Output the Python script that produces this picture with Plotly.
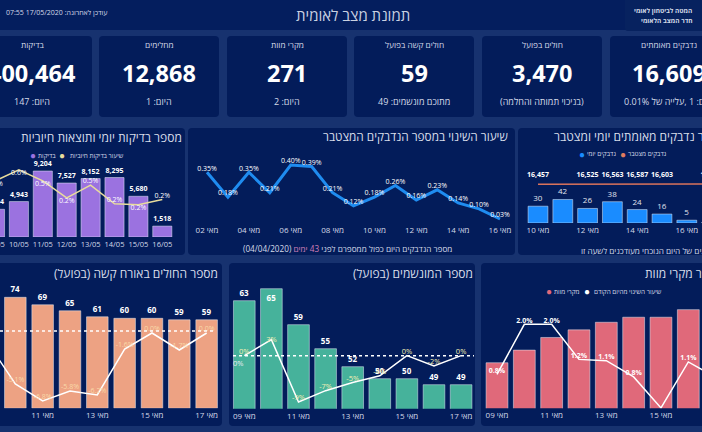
import plotly.graph_objects as go

W, H = 702, 432
FONT = "Open Sans"
BG = "#17326f"
PANEL = "#031c5a"
TXT = "#d4dae8"

# ---- data ----
kpi_titles = ["נדבקים מאומתים", "חולים בפועל", "חולים קשה בפועל", "מקרי מוות", "מחלימים", "בדיקות"]
kpi_values = ["16,609", "3,470", "59", "271", "12,868", "400,464"]
kpi_subs = ["היום: 1 ,עלייה של 0.01%", "(בניכוי תמותה והחלמה)", "מתוכם מונשמים: 49", "היום: 2", "היום: 1", "היום: 147"]

test_days = ["09/05", "10/05", "11/05", "12/05", "13/05", "14/05", "15/05", "16/05"]
test_counts = [3864, 4943, 9204, 7527, 8152, 8295, 5680, 1518]
test_pos_rate = [0.47, 0.60, 0.47, 0.27, 0.42, 0.20, 0.19, 0.25]
test_pos_labels = ["0.5%", "0.6%", "0.5%", "0.2%", "0.5%", "0.2%", "0.2%", "0.2%"]

growth_days = ["מאי %02d" % d for d in (2, 3, 4, 5, 6, 7, 8, 9, 10, 11, 12, 13, 14, 15, 16)]
growth_rate = [0.35, 0.18, 0.35, 0.21, 0.40, 0.39, 0.21, 0.12, 0.18, 0.26, 0.16, 0.23, 0.14, 0.10, 0.03]

conf_days = ["מאי %02d" % d for d in (10, 11, 12, 13, 14, 15, 16, 17)]
conf_daily = [30, 42, 26, 38, 24, 16, 5, 1]
conf_total = [16457, 16499, 16525, 16563, 16587, 16603, 16608, 16609]
conf_total_labels = ["16,457", "", "16,525", "16,563", "16,587", "16,603", "", "16,609"]

severe_days = ["מאי %02d" % d for d in (9, 10, 11, 12, 13, 14, 15, 16, 17)]
severe_counts = [76, 74, 69, 65, 61, 60, 60, 59, 59]
severe_change = [-1.0, -5.1, -6.8, -5.8, -6.2, -1.6, 0.0, -1.7, 0.0]

vent_days = severe_days
vent_counts = [63, 65, 59, 55, 52, 50, 50, 49, 49]
vent_change = [0.0, 3.1, -9.0, -6.8, -5.2, -3.9, 0.0, -2.0, 0.0]
vent_labels = ["0%", "3%", "-9%", "-7%", "-5%", "-4%", "0%", "-2%", "0%"]

death_days = severe_days
death_counts = [248, 253, 258, 261, 264, 266, 266, 269, 271]
death_change = [0.8, 2.0, 2.0, 1.16, 1.13, 0.74, 0.0, 1.1, 0.73]
death_labels = ["0.8%", "2.0%", "2.0%", "1.2%", "1.1%", "0.8%", "", "1.1%", "0.7%"]


# ---- pixel helpers for the dashboard grid ----
def fx(p): return p / W
def fy(p): return 1 - p / H

def panel(x0, y0, x1, y1, color=PANEL, r=4):
    a, b, c, d = fx(x0), fy(y0), fx(x1), fy(y1)
    rx, ry = r / W, r / H
    path = (f"M {a+rx} {b} L {c-rx} {b} Q {c} {b} {c} {b-ry} L {c} {d+ry} Q {c} {d} {c-rx} {d} "
            f"L {a+rx} {d} Q {a} {d} {a} {d+ry} L {a} {b-ry} Q {a} {b} {a+rx} {b} Z")
    return dict(type="path", path=path, xref="paper", yref="paper", fillcolor=color,
                line=dict(width=0), layer="below")

def note(x, y, text, size=7.5, color=TXT, anchor="center", bold=False):
    t = f"<b>{text}</b>" if bold else text
    return dict(x=fx(x), y=fy(y), xref="paper", yref="paper", text=t, showarrow=False,
                xanchor=anchor, yanchor="middle", font=dict(size=size, color=color, family=FONT),
                borderpad=0, borderwidth=0)

def dot(x, y, color):
    return note(x, y, "●", 10, color)

shapes, annos = [], []
layout = {}
traces = []

# panels
shapes.append(panel(-5, -5, W + 5, 30, "#041e5e", 0))
shapes.append(panel(625, -5, W + 5, 31, "#07225f", 3))
for x0 in (-28, 99, 227, 354, 482, 610):
    shapes.append(panel(x0, 36, x0 + 120, 117))
for x0, x1 in ((-20, 185), (188, 515), (518, W + 20)):
    shapes.append(panel(x0, 128, x1, 255))
for x0, x1 in ((-20, 222), (229, 475), (481, W + 20)):
    shapes.append(panel(x0, 263, x1, 426))

# header
annos.append(note(353, 15, "תמונת מצב לאומית", 15, "#c9d1e2"))
annos.append(note(56, 13, "עודכן לאחרונה: 17/05/2020 07:55", 7, TXT))
annos.append(note(662.5, 11, "המטה לביטחון לאומי", 6.5, TXT, bold=True))
annos.append(note(667, 20.5, "חדר המצב הלאומי", 6.5, TXT, bold=True))

# KPI cards
kpi_cx = [669, 542, 414, 287, 159, 32]
for cx, t, v, s in zip(kpi_cx, kpi_titles, kpi_values, kpi_subs):
    annos.append(note(cx, 45, t, 8.3, TXT))
    annos.append(note(cx, 73, v, 23.5, "#ffffff", bold=True))
    annos.append(note(cx, 101, s, 9, TXT))

# ---- chart axes ----
def axes(n, L, R, T, B, c0, step, v0, k, labels, tick_labels, v0b=None, kb=None, tick_size=8):
    sx = "" if n == 1 else str(n)
    yb, yl = f"yaxis{2*n-1 if n > 1 else ''}", f"yaxis{2*n}"
    xname = f"x{sx}"
    layout[f"xaxis{sx}"] = dict(
        type="category", categoryorder="array", categoryarray=labels,
        domain=[fx(L), fx(R)], range=[(L - c0) / step, (R - c0) / step],
        anchor=yb.replace("axis", ""), tickmode="array", tickvals=tick_labels, ticktext=tick_labels,
        ticks="", showgrid=False, zeroline=False, showline=False,
        tickfont=dict(size=tick_size, color=TXT, family=FONT), ticklabelstandoff=1, tickangle=0)
    dom = [fy(B), fy(T)]
    layout[yb] = dict(domain=dom, range=[v0, v0 + (B - T) / k], visible=False, anchor=xname,
                      fixedrange=True)
    if kb is not None:
        layout[yl] = dict(domain=dom, range=[v0b, v0b + (B - T) / kb], visible=False, anchor=xname,
                          overlaying=yb.replace("axis", ""))
    return xname, yb.replace("axis", ""), yl.replace("axis", "")

LBL = dict(family=FONT, size=7, color="#ffffff")
LEG = 6.4

# ---- 1. tests ----
x, yb, yl = axes(1, 0, 185, 160, 237, -5, 23.9, 0, 0.00717, test_days, test_days[1:],
                 v0b=-0.19, kb=85.0, tick_size=7.5)
traces.append(go.Bar(x=test_days, y=test_counts, xaxis=x, yaxis=yb, width=0.8, marker_color="#9b72e0",
                     text=[f"<b>{v:,}</b>" for v in test_counts], textposition="outside", constraintext="none",
                     textfont=dict(family=FONT, size=7, color="#ffffff"), textangle=0))
traces.append(go.Scatter(x=test_days, y=test_pos_rate, xaxis=x, yaxis=yl, mode="lines+text",
                         line=dict(color="#e8dc9c", width=1.5), text=test_pos_labels,
                         textposition=["bottom center", "bottom center", "bottom center", "bottom center",
                                       "top center", "top center", "bottom center", "top center"],
                         textfont=LBL))
annos.append(note(-5, 244, "09/05", 7.5))
annos.append(note(182, 137, "מספר בדיקות יומי ותוצאות חיוביות", 12, "#d8deea", "right"))
annos.append(dot(33, 155, "#9b72e0"))
annos.append(note(47, 155, "בדיקות", LEG, TXT))
annos.append(dot(62, 155, "#e8dc9c"))
annos.append(note(96.7, 155, "שיעור בדיקות חיוביות", LEG, TXT))

# ---- 2. growth ----
x, yb, yl = axes(2, 190, 512, 155, 223.4, 207, 20.93, 0, 146, growth_days, growth_days[0::2])
traces.append(go.Scatter(x=growth_days, y=growth_rate, xaxis=x, yaxis=yb, mode="lines+text",
                         line=dict(color="#1f8cf0", width=3),
                         text=[f"{v:.2f}%" for v in growth_rate], textposition="top center",
                         textfont=LBL))
annos.append(note(508, 136, "שיעור השינוי במספר הנדבקים המצטבר", 11.8, "#d8deea", "right"))
annos.append(note(347, 249, 'מספר הנדבקים היום כפול ממספרם לפני <span style="color:#d07fb8">43 ימים</span> (04/04/2020)', 8.2, TXT))

# ---- 3. confirmed ----
x, yb, yl = axes(3, 518, W, 160, 223, 538, 24.8, 0, 0.56, conf_days, conf_days[0::2],
                 v0b=0, kb=0.00235)
traces.append(go.Bar(x=conf_days, y=conf_daily, xaxis=x, yaxis=yb, width=0.8, marker_color="#1a8cff",
                     text=conf_daily, textposition="outside", constraintext="none",
                     textfont=dict(family=FONT, size=8, color="#e0e4ee"), textangle=0))
traces.append(go.Scatter(x=conf_days, y=conf_total, xaxis=x, yaxis=yl, mode="lines+markers+text",
                         line=dict(color="#d9735c", width=1.5), marker=dict(size=7, opacity=0),
                         text=[f"<b>{t}</b>" if t else "" for t in conf_total_labels],
                         textposition="top center", textfont=dict(family=FONT, size=7, color="#ffffff")))
annos.append(note(554, 136, "מספר נדבקים מאומתים יומי ומצטבר", 12, "#d8deea", "left"))
annos.append(dot(582, 154, "#1a8cff"))
annos.append(note(601, 154, "נדבקים יומי", LEG, TXT))
annos.append(dot(623, 154, "#e07c5e"))
annos.append(note(647.5, 154, "נדבקים מצטבר", LEG, TXT))
annos.append(note(581, 250, "הנתונים של היום הנוכחי מעודכנים לשעה זו", 8.2, TXT, "left"))

# ---- 4. severe ----
x, yb, yl = axes(4, 0, 222, 283, 408.3, -12, 27.33, 0, 1.5, severe_days, severe_days[2::2],
                 v0b=-7.53, kb=10.0)
traces.append(go.Bar(x=severe_days, y=severe_counts, xaxis=x, yaxis=yb, width=0.79, marker_color="#eda283",
                     text=[f"<b>{v}</b>" for v in severe_counts], textposition="outside", constraintext="none",
                     textfont=dict(family=FONT, size=8, color="#ffffff"), textangle=0))
traces.append(go.Scatter(x=severe_days, y=severe_change, xaxis=x, yaxis=yl, mode="lines+text",
                         line=dict(color="#ffffff", width=1.5), text=[f"{v:.1f}%" for v in severe_change],
                         textposition="top center", textfont=dict(family=FONT, size=7, color="#f9d9a8")))
shapes.append(dict(type="line", xref="paper", x0=0, x1=fx(216), yref=yl, y0=0.2, y1=0.2,
                   line=dict(color="#ffffff", width=1.5, dash="dot")))
annos.append(note(218, 273, "מספר החולים באורח קשה (בפועל)", 12, "#d8deea", "right"))

# ---- 5. ventilated ----
x, yb, yl = axes(5, 229, 475, 283, 408.7, 244.3, 27.1, 45, 6.0, vent_days, vent_days[0::2],
                 v0b=-10.3, kb=5.15)
traces.append(go.Bar(x=vent_days, y=vent_counts, xaxis=x, yaxis=yb, width=0.8, marker_color="#46b29b",
                     text=[f"<b>{v}</b>" for v in vent_counts], textposition=["outside", "inside"] + ["outside"] * 7,
                     insidetextanchor="end", constraintext="none",
                     textfont=dict(family=FONT, size=8, color="#ffffff"), textangle=0))
traces.append(go.Scatter(x=vent_days, y=vent_change, xaxis=x, yaxis=yl, mode="lines+text",
                         line=dict(color="#ffffff", width=1.5), text=vent_labels,
                         textposition=["top center", "middle center"] + ["top center"] * 7,
                         textfont=dict(family=FONT, size=7.5, color="#f3efb4")))
shapes.append(dict(type="line", xref="paper", x0=fx(233), x1=fx(474), yref=yl, y0=0, y1=0,
                   line=dict(color="#ffffff", width=1.5, dash="dot")))
annos.append(note(473, 273, "מספר המונשמים (בפועל)", 12, "#d8deea", "right"))
annos.append(note(238, 363, "0%", 7.5, "#e8ecf4"))

# ---- 6. deaths ----
x, yb, yl = axes(6, 481, W, 283, 408.3, 497, 27.33, 230, 2.53, death_days, death_days[0::2],
                 v0b=-0.01, kb=41.8)
traces.append(go.Bar(x=death_days, y=death_counts, xaxis=x, yaxis=yb, width=0.8, marker_color="#e0697a",
                     text=[f"<b>{v}</b>" for v in death_counts], textposition="inside", insidetextanchor="start", constraintext="none",
                     textfont=dict(family=FONT, size=7.5, color="#ffffff"), textangle=0))
traces.append(go.Scatter(x=death_days, y=death_change, xaxis=x, yaxis=yl, mode="lines+text",
                         line=dict(color="#ffffff", width=1.5), text=[f"<b>{t}</b>" if t else "" for t in death_labels],
                         textposition="top center", textfont=LBL))
annos.append(note(645, 273, "מספר מקרי מוות", 12, "#d8deea", "left"))
annos.append(dot(548.5, 291, "#e0697a"))
annos.append(note(566.8, 291, "מקרי מוות", LEG, TXT))
annos.append(dot(586.5, 291, "#ffffff"))
annos.append(note(627.7, 291, "שיעור השינוי מהיום הקודם", LEG, TXT))

fig = go.Figure(traces)
fig.update_layout(width=W, height=H, margin=dict(l=0, r=0, t=0, b=0, pad=0), paper_bgcolor=BG,
                  plot_bgcolor="rgba(0,0,0,0)", showlegend=False, shapes=shapes, annotations=annos,
                  font=dict(family=FONT), barmode="overlay", **layout)
fig.write_html("out.html", config=dict(displayModeBar=False),
               post_script="document.body.style.margin='0';document.body.style.overflow='hidden';document.body.style.background='%s';" % BG)
